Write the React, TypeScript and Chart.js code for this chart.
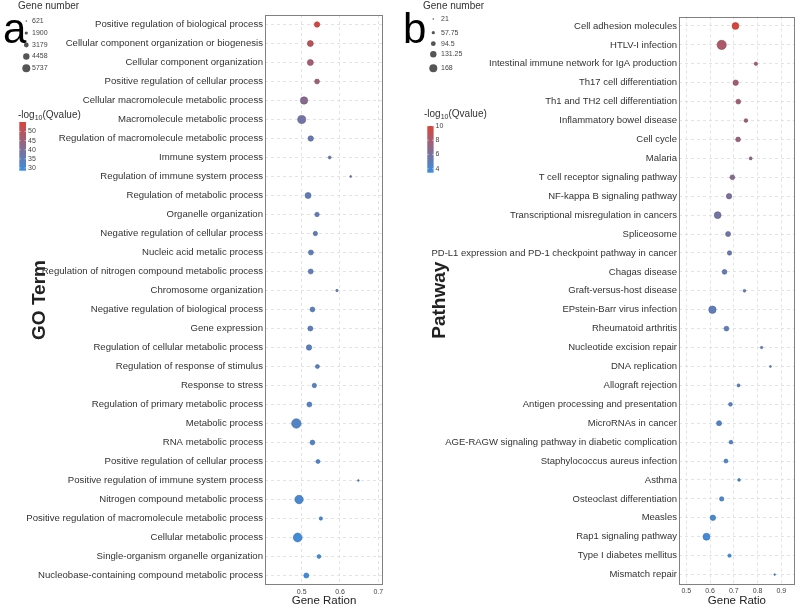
import React, { useEffect, useRef } from 'react';
import { Chart, registerables } from 'chart.js';

Chart.register(...registerables);

// ---------- Panel a: GO terms ----------
const goTerms = [
  'Positive regulation of biological process',
  'Cellular component organization or biogenesis',
  'Cellular component organization',
  'Positive regulation of cellular process',
  'Cellular macromolecule metabolic process',
  'Macromolecule metabolic process',
  'Regulation of macromolecule metabolic process',
  'Immune system process',
  'Regulation of immune system process',
  'Regulation of metabolic process',
  'Organelle organization',
  'Negative regulation of cellular process',
  'Nucleic acid metalic process',
  'Regulation of nitrogen compound metabolic process',
  'Chromosome organization',
  'Negative regulation of biological process',
  'Gene expression',
  'Regulation of cellular metabolic process',
  'Regulation of response of stimulus',
  'Response to stress',
  'Regulation of primary metabolic process',
  'Metabolic process',
  'RNA metabolic process',
  'Positive regulation of cellular process',
  'Positive regulation of immune system process',
  'Nitrogen compound metabolic process',
  'Positive regulation of macromolecule metabolic process',
  'Cellular metabolic process',
  'Single-organism organelle organization',
  'Nucleobase-containing compound metabolic process',
];
const goRatio = [
  0.540, 0.5225, 0.5225, 0.540, 0.506, 0.500, 0.5235, 0.573, 0.628, 0.5165,
  0.540, 0.5356, 0.524, 0.5235, 0.592, 0.528, 0.5225, 0.519, 0.541, 0.533,
  0.520, 0.486, 0.528, 0.5425, 0.648, 0.493, 0.550, 0.4895, 0.545, 0.512,
];
const goCount = [
  4152, 4608, 4587, 3671, 5712, 6234, 4130, 2218, 1415, 4611,
  3349, 3322, 3810, 3795, 1733, 3655, 3828, 4127, 3012, 3356,
  3801, 7352, 3640, 3034, 1247, 6553, 2547, 6871, 2845, 3819,
];
const goQ = [
  54, 50, 46.5, 45.5, 41.5, 38, 36, 36, 35.5, 35,
  35, 35, 34.5, 34.5, 34.5, 34, 34, 33.5, 33.5, 33,
  33, 32.5, 32, 32, 31.5, 31, 30.5, 30, 29.5, 29,
];
const goTicks = [0.5, 0.6, 0.7];
const goSizeBreaks = [621, 1900, 3179, 4458, 5737];
const goColorBreaks = [30, 35, 40, 45, 50];

// ---------- Panel b: pathways ----------
const pathTerms = [
  'Cell adhesion molecules',
  'HTLV-I infection',
  'Intestinal immune network for IgA production',
  'Th17 cell differentiation',
  'Th1 and TH2 cell differentiation',
  'Inflammatory bowel disease',
  'Cell cycle',
  'Malaria',
  'T cell receptor signaling pathway',
  'NF-kappa B signaling pathway',
  'Transcriptional misregulation in cancers',
  'Spliceosome',
  'PD-L1 expression and PD-1 checkpoint pathway in cancer',
  'Chagas disease',
  'Graft-versus-host disease',
  'EPstein-Barr virus infection',
  'Rheumatoid arthritis',
  'Nucleotide excision repair',
  'DNA replication',
  'Allograft rejection',
  'Antigen processing and presentation',
  'MicroRNAs in cancer',
  'AGE-RAGW signaling pathway in diabetic complication',
  'Staphylococcus aureus infection',
  'Asthma',
  'Osteoclast differentiation',
  'Measles',
  'Rap1 signaling pathway',
  'Type I diabetes mellitus',
  'Mismatch repair',
];
const pathRatio = [
  0.707, 0.649, 0.793, 0.708, 0.719, 0.751, 0.718, 0.771, 0.694, 0.680,
  0.632, 0.676, 0.682, 0.661, 0.745, 0.610, 0.669, 0.817, 0.854, 0.720,
  0.686, 0.638, 0.688, 0.667, 0.722, 0.649, 0.612, 0.585, 0.682, 0.872,
];
const pathCount = [
  154, 210, 76, 122, 108, 85, 108, 67, 108, 122,
  154, 113, 99, 108, 62, 168, 108, 53, 44, 67,
  85, 113, 85, 90, 62, 99, 122, 159, 76, 39,
];
const pathQ = [
  10, 8.2, 8.0, 7.9, 7.8, 7.6, 7.5, 7.1, 6.6, 6.2,
  5.8, 5.6, 5.4, 5.2, 5.1, 5.0, 4.9, 4.8, 4.7, 4.6,
  4.5, 4.4, 4.3, 4.2, 4.1, 4.0, 3.9, 3.8, 3.7, 3.6,
];
const pathTicks = [0.5, 0.6, 0.7, 0.8, 0.9];
const pathSizeBreaks = [21, 57.75, 94.5, 131.25, 168];
const pathColorBreaks = [4, 6, 8, 10];

const FONT = '"Liberation Sans", Arial, Helvetica, sans-serif';
const LOW = [58, 142, 224];
const HIGH = [216, 69, 59];

function qColor(q: number, qMin: number, qMax: number, k = 1) {
  let t = (q - qMin) / (qMax - qMin);
  t = Math.max(0, Math.min(1, t));
  const c = LOW.map((l, i) => Math.round((l + (HIGH[i] - l) * t) * k));
  return `rgb(${c[0]},${c[1]},${c[2]})`;
}

type Panel = {
  letter: string;
  terms: string[];
  ratio: number[];
  count: number[];
  q: number[];
  ticks: number[];
  sizeBreaks: number[];
  colorBreaks: number[];
  xTitle: string;
  yTitle: string;
  xMin: number;
  xMax: number;
  qMin: number;
  qMax: number;
  rMin: number;
  rMax: number;
  labelFont: number;
  area: { left: number; top: number; right: number; xh: number };
  lg: {
    titleX: number; titleY: number; dotX: number; dotY: number[]; labX: number;
    cbTitleX: number; cbTitleY: number; barX: number; barW: number; barTop: number; barBottom: number; cbLabX: number;
  };
};

const panelA: Panel = {
  letter: 'a', terms: goTerms, ratio: goRatio, count: goCount, q: goQ, ticks: goTicks,
  sizeBreaks: goSizeBreaks, colorBreaks: goColorBreaks, xTitle: 'Gene Ration', yTitle: 'GO Term',
  xMin: 0.404, xMax: 0.7124, qMin: 28.5, qMax: 55.2, rMin: 0.8, rMax: 4.0, labelFont: 9.6,
  area: { left: 265, top: 15, right: 17, xh: 23 },
  lg: {
    titleX: 18, titleY: 6, dotX: 26.3, dotY: [21, 33, 45, 56.5, 68.3], labX: 32,
    cbTitleX: 18, cbTitleY: 115, barX: 19.3, barW: 6.7, barTop: 122, barBottom: 170.7, cbLabX: 28,
  },
};

const panelB: Panel = {
  letter: 'b', terms: pathTerms, ratio: pathRatio, count: pathCount, q: pathQ, ticks: pathTicks,
  sizeBreaks: pathSizeBreaks, colorBreaks: pathColorBreaks, xTitle: 'Gene Ratio', yTitle: 'Pathway',
  xMin: 0.4694, xMax: 0.9567, qMin: 3.44, qMax: 10, rMin: 0.8, rMax: 4.0, labelFont: 9.5,
  area: { left: 279, top: 16.5, right: 3, xh: 24 },
  lg: {
    titleX: 23, titleY: 6, dotX: 33.3, dotY: [19, 32.7, 43.7, 54.3, 68.3], labX: 41,
    cbTitleX: 24, cbTitleY: 114, barX: 27.3, barW: 6.3, barTop: 126, barBottom: 172.7, cbLabX: 35.5,
  },
};

function sizeFor(v: number, p: Panel) {
  const b = p.sizeBreaks;
  return p.rMin + (p.rMax - p.rMin) * (v - b[0]) / (b[b.length - 1] - b[0]);
}

function makeChart(canvas: HTMLCanvasElement, p: Panel) {
  const data = p.ratio.map((x, i) => ({ x, y: i }));
  const bg = p.q.map((q) => qColor(q, p.qMin, p.qMax));
  const bd = p.q.map((q) => qColor(q, p.qMin, p.qMax, 0.8));
  const radii = p.count.map((v) => Math.max(0.8, sizeFor(v, p) - 0.3));

  const decor = {
    id: 'decor_' + p.letter,
    beforeDatasetsDraw(chart: any) {
      const { ctx, chartArea: a } = chart;
      ctx.save();
      ctx.strokeStyle = '#808080';
      ctx.lineWidth = 1;
      ctx.strokeRect(Math.round(a.left) + 0.5, Math.round(a.top) + 0.5, Math.round(a.right - a.left) - 1, Math.round(a.bottom - a.top) - 1);
      ctx.restore();
    },
    afterDraw(chart: any) {
      const ctx = chart.ctx as CanvasRenderingContext2D;
      const L = p.lg;
      ctx.save();
      // panel letter
      ctx.fillStyle = '#000';
      ctx.font = `42px ${FONT}`;
      ctx.textAlign = 'left';
      ctx.textBaseline = 'alphabetic';
      ctx.fillText(p.letter, 3, 43);
      // size legend
      ctx.fillStyle = '#333';
      ctx.font = `10px ${FONT}`;
      ctx.textBaseline = 'middle';
      ctx.fillText('Gene number', L.titleX, L.titleY);
      p.sizeBreaks.forEach((v, i) => {
        ctx.beginPath();
        ctx.fillStyle = '#555';
        ctx.arc(L.dotX, L.dotY[i], sizeFor(v, p), 0, Math.PI * 2);
        ctx.fill();
        ctx.fillStyle = '#444';
        ctx.font = `7px ${FONT}`;
        ctx.fillText(String(v), L.labX, L.dotY[i]);
      });
      // colour bar title
      ctx.fillStyle = '#333';
      ctx.font = `10px ${FONT}`;
      let x = L.cbTitleX;
      ctx.fillText('-log', x, L.cbTitleY);
      x += ctx.measureText('-log').width;
      ctx.font = `7px ${FONT}`;
      ctx.fillText('10', x, L.cbTitleY + 3);
      x += ctx.measureText('10').width;
      ctx.font = `10px ${FONT}`;
      ctx.fillText('(Qvalue)', x, L.cbTitleY);
      // colour bar
      const g = ctx.createLinearGradient(0, L.barTop, 0, L.barBottom);
      g.addColorStop(0, qColor(p.qMax, p.qMin, p.qMax));
      g.addColorStop(0.5, qColor((p.qMax + p.qMin) / 2, p.qMin, p.qMax));
      g.addColorStop(1, qColor(p.qMin, p.qMin, p.qMax));
      ctx.fillStyle = g;
      ctx.fillRect(L.barX, L.barTop, L.barW, L.barBottom - L.barTop);
      ctx.font = `7px ${FONT}`;
      p.colorBreaks.forEach((v) => {
        const y = L.barBottom - (v - p.qMin) / (p.qMax - p.qMin) * (L.barBottom - L.barTop);
        ctx.strokeStyle = 'rgba(255,255,255,0.8)';
        ctx.lineWidth = 0.6;
        ctx.beginPath();
        ctx.moveTo(L.barX, y); ctx.lineTo(L.barX + 1.5, y);
        ctx.moveTo(L.barX + L.barW - 1.5, y); ctx.lineTo(L.barX + L.barW, y);
        ctx.stroke();
        ctx.fillStyle = '#444';
        ctx.fillText(String(v), L.cbLabX, y);
      });
      ctx.restore();
    },
  };

  return new Chart(canvas, {
    type: 'scatter',
    data: {
      labels: p.terms,
      datasets: [{
        data,
        backgroundColor: bg,
        borderColor: bd,
        borderWidth: 0.6,
        pointRadius: radii,
        pointHoverRadius: radii,
      }],
    },
    options: {
      animation: false,
      responsive: false,
      events: [],
      layout: { padding: { top: p.area.top, right: p.area.right, left: 0, bottom: 0 } },
      plugins: { legend: { display: false }, tooltip: { enabled: false } },
      scales: {
        x: {
          type: 'linear',
          min: p.xMin,
          max: p.xMax,
          afterBuildTicks: (s: any) => { s.ticks = p.ticks.map((v) => ({ value: v })); },
          afterFit: (s: any) => { s.height = p.area.xh; },
          grid: { color: '#dcdcdc', lineWidth: 0.8, drawTicks: false },
          border: { display: false, dash: [3, 3] },
          ticks: {
            font: { size: 7, family: FONT },
            color: '#444',
            padding: 2.5,
            maxRotation: 0,
            callback: (v: any) => Number(v).toFixed(1),
          },
          title: {
            display: true,
            text: p.xTitle,
            font: { size: 11.5, family: FONT },
            color: '#222',
            padding: { top: 0, bottom: 0 },
          },
        },
        y: {
          type: 'category',
          labels: p.terms,
          offset: true,
          afterFit: (s: any) => { s.width = p.area.left; },
          grid: { color: '#dcdcdc', lineWidth: 0.8, drawTicks: false, offset: false },
          border: { display: false, dash: [3, 3] },
          ticks: {
            autoSkip: false,
            font: { size: p.labelFont, family: FONT },
            color: '#333',
            padding: 2,
          },
          title: {
            display: true,
            text: p.yTitle,
            font: { size: 19, weight: 'bold', family: FONT },
            color: '#222',
            padding: { top: 28.6, bottom: 0 },
          },
        },
      },
    } as any,
    plugins: [decor],
  });
}

function PanelChart({ panel, left }: { panel: Panel; left: number }) {
  const ref = useRef<HTMLCanvasElement>(null);
  useEffect(() => {
    if (!ref.current) return;
    const c = makeChart(ref.current, panel);
    return () => c.destroy();
  }, [panel]);
  return (
    <canvas
      ref={ref}
      width={400}
      height={608}
      style={{ position: 'absolute', left, top: 0, width: 400, height: 608, display: 'block' }}
    />
  );
}

export default function App() {
  useEffect(() => {
    document.body.style.margin = '0';
    document.body.style.background = '#fff';
  }, []);
  return (
    <div style={{ position: 'absolute', left: 0, top: 0, width: 800, height: 608, background: '#fff' }}>
      <PanelChart panel={panelA} left={0} />
      <PanelChart panel={panelB} left={400} />
    </div>
  );
}
